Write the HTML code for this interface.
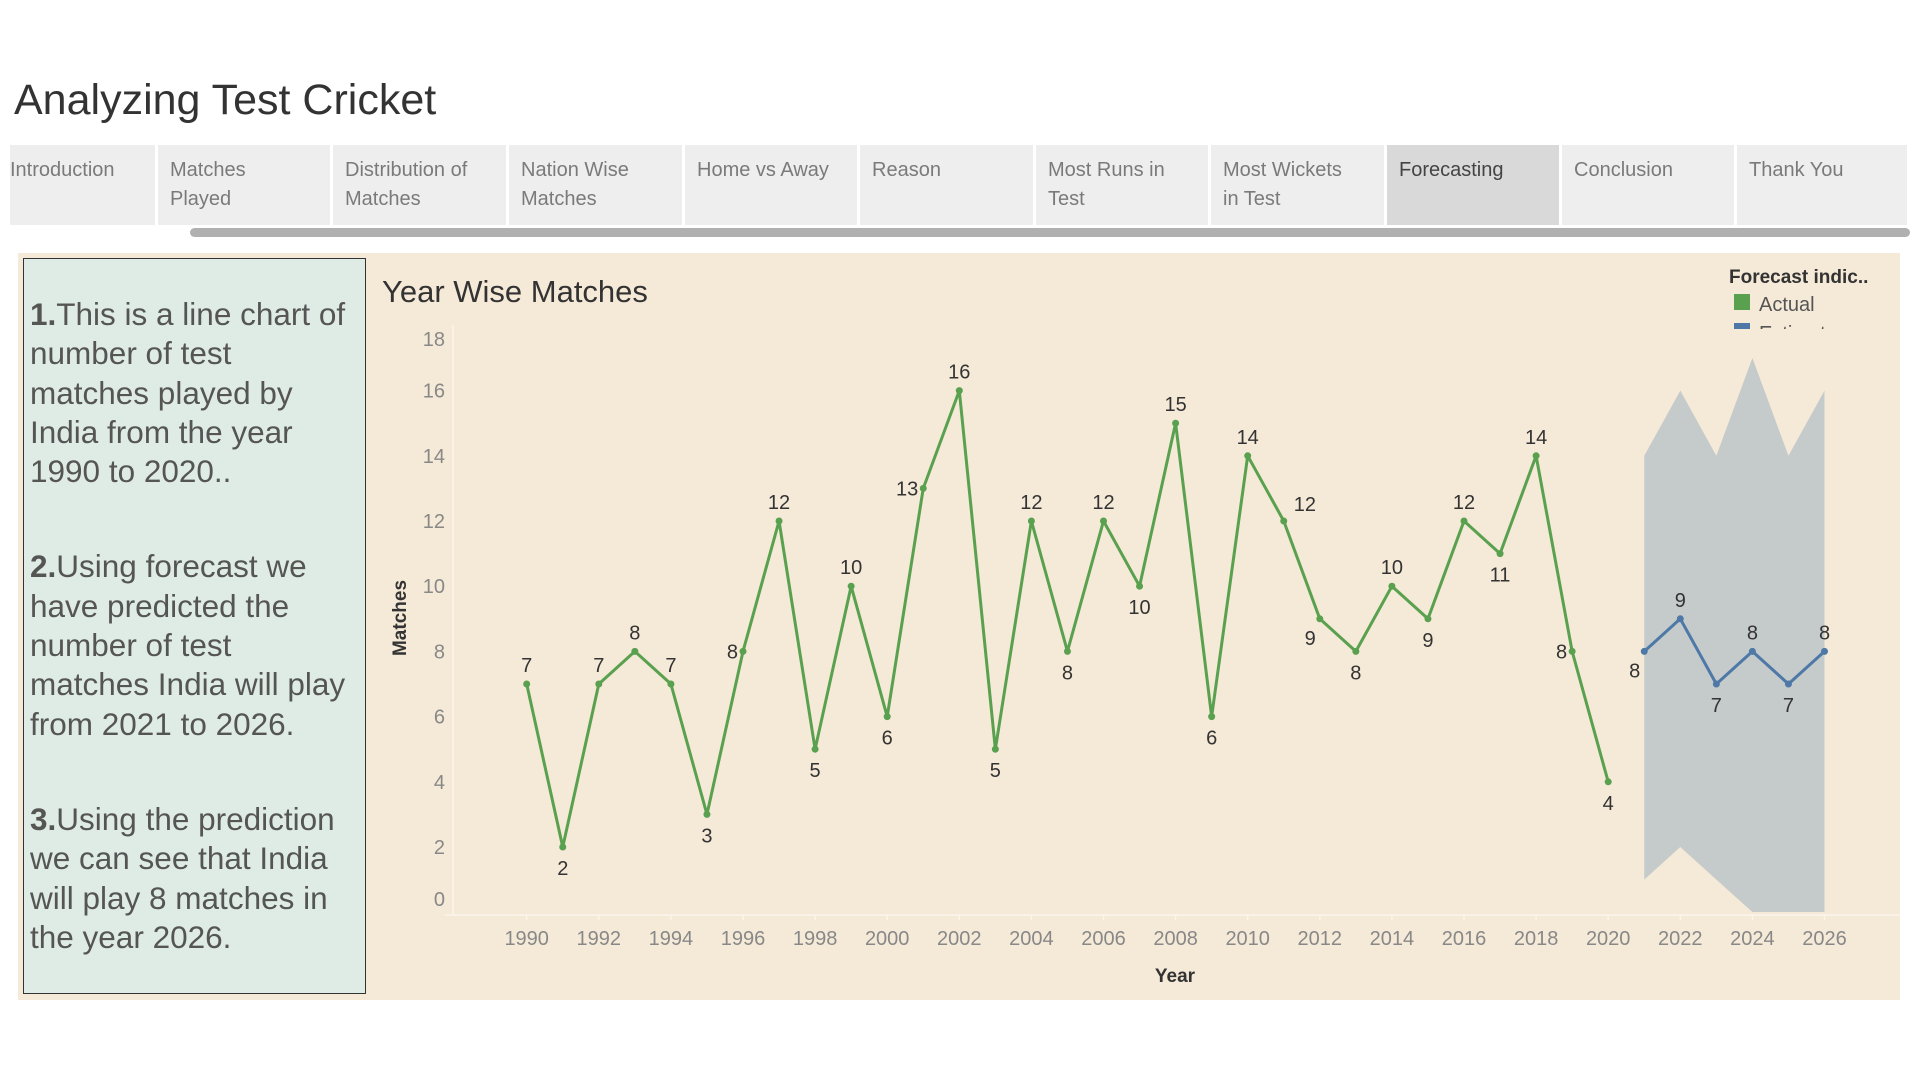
<!DOCTYPE html>
<html><head><meta charset="utf-8"><style>
body{margin:0;width:1920px;height:1080px;background:#fff;font-family:"Liberation Sans",sans-serif;overflow:hidden;position:relative}
.tab{position:absolute;top:145px;height:80px;background:#eeeeee;color:#7a7a7a;font-size:20px;line-height:29px;padding:11px 0 0 0;box-sizing:border-box}
.tab span{display:block;padding-left:12px}
.desc p{margin:0 0 56px;white-space:nowrap}
</style></head><body>
<div style="position:absolute;left:14px;top:76px;font-size:43px;color:#333">Analyzing Test Cricket</div>
<div id="tabs"></div>
<div style="position:absolute;left:190px;top:228px;width:1720px;height:9px;border-radius:5px;background:#b0b0b0"></div>
<div style="position:absolute;left:18px;top:253px;width:1882px;height:747px;background:#f5e9d7"></div>
<div class="desc" style="position:absolute;left:23px;top:258px;width:343px;height:736px;box-sizing:border-box;background:#dfece6;border:1.5px solid #333;padding:36px 0 0 6px;color:#555;font-size:31.5px;letter-spacing:0px;line-height:39.3px;overflow:hidden">
<p><b>1.</b>This is a line chart of<br>number of test<br>matches played by<br>India from the year<br>1990 to 2020..</p>
<p><b>2.</b>Using forecast we<br>have predicted the<br>number of test<br>matches India will play<br>from 2021 to 2026.</p>
<p><b>3.</b>Using the prediction<br>we can see that India<br>will play 8 matches in<br>the year 2026.</p>
</div>
<svg id="chart" width="1920" height="1080" style="position:absolute;left:0;top:0" xmlns="http://www.w3.org/2000/svg"></svg>
<script>
const tabNames=["Introduction","Matches<br>Played","Distribution of<br>Matches","Nation Wise<br>Matches","Home vs Away","Reason","Most Runs in<br>Test","Most Wickets<br>in Test","Forecasting","Conclusion","Thank You"];
const tabEdges=[10,158,333,509,685,860,1036,1211,1387,1562,1737,1910];
const tabsEl=document.getElementById('tabs');
tabNames.forEach((t,i)=>{
 const d=document.createElement('div');
 d.className='tab';
 
 
 d.style.left=tabEdges[i]+'px';d.style.width=(tabEdges[i+1]-tabEdges[i]-3)+'px';
 if(t==='Forecasting'){d.style.background='#d9d9d9';d.style.color='#444';}
 d.innerHTML='<span'+(i===0?' style="padding-left:0"':'')+'>'+t+'</span>';
 tabsEl.appendChild(d);
});

const actualYears=[1990,1991,1992,1993,1994,1995,1996,1997,1998,1999,2000,2001,2002,2003,2004,2005,2006,2007,2008,2009,2010,2011,2012,2013,2014,2015,2016,2017,2018,2019,2020];
const actualValues=[7,2,7,8,7,3,8,12,5,10,6,13,16,5,12,8,12,10,15,6,14,12,9,8,10,9,12,11,14,8,4];
const actualLabelPos=['a','b','a','a','a','b','l','a','b','a','b','l','a','b','a','b','a','b','a','b','a','r','bl','b','a','b','a','b','a','l','b'];
const forecastYears=[2021,2022,2023,2024,2025,2026];
const forecastValues=[8,9,7,8,7,8];
const forecastLabelPos=['bl','a','b','a','b','a'];
const bandUpper=[14,16,14,17,14,16];
const bandLower=[1,2,1,0,0,0];
const yTicks=[0,2,4,6,8,10,12,14,16,18];
const xTicks=[1990,1992,1994,1996,1998,2000,2002,2004,2006,2008,2010,2012,2014,2016,2018,2020,2022,2024,2026];

const X=y=>526.7+(y-1990)*36.05;
const Y=v=>651.4-(v-8)*32.6;
const svg=document.getElementById('chart');
const NS='http://www.w3.org/2000/svg';
function mk(tag,attrs,parent){const e=document.createElementNS(NS,tag);for(const k in attrs)e.setAttribute(k,attrs[k]);(parent||svg).appendChild(e);return e;}
function txt(s,x,y,attrs,parent){const e=mk('text',Object.assign({x:x,y:y},attrs),parent);e.textContent=s;return e;}

let t=txt('Year Wise Matches',382,302,{'font-size':31,fill:'#333'});



let ax=mk('line',{x1:453,y1:325,x2:453,y2:915,stroke:'#fbf5ec','stroke-width':1.5});


let bx=mk('line',{x1:445,y1:915,x2:1900,y2:915,stroke:'#fbf5ec','stroke-width':1.5});



yTicks.forEach(v=>{
 const yy=Math.min(899,Math.max(339,Y(v)));
 const e=txt(String(v),445,yy+7,{'font-size':20,fill:'#888','text-anchor':'end'});
 
 
});
xTicks.forEach(yr=>{
 const tk=mk('line',{x1:X(yr),y1:915,x2:X(yr),y2:920,stroke:'#fbf5ec','stroke-width':1.5});
 
 
 const e=txt(String(yr),X(yr),945,{'font-size':20,fill:'#888','text-anchor':'middle'});
 
 
});
let yt=txt('Matches',0,0,{'font-size':19,'font-weight':'bold',fill:'#333','text-anchor':'middle',transform:'translate(406,618) rotate(-90)'});


let xt=txt('Year',1175,982,{'font-size':19,'font-weight':'bold',fill:'#333','text-anchor':'middle'});



let pts=forecastYears.map((yr,i)=>X(yr)+','+Y(bandUpper[i]));
for(let i=forecastYears.length-1;i>=0;i--)pts.push(X(forecastYears[i])+','+Math.min(912,Y(bandLower[i])));
let band=mk('polygon',{points:pts.join(' '),fill:'#c5cacb'});



function series(years,vals,pos,color,name){
 const p=mk('polyline',{points:years.map((yr,i)=>X(yr)+','+Y(vals[i])).join(' '),fill:'none',stroke:color,'stroke-width':3,'stroke-linejoin':'round'});
 
 
 years.forEach((yr,i)=>{
  const c=mk('circle',{cx:X(yr),cy:Y(vals[i]),r:3.5,fill:color});
  
  
  let lx=X(yr),ly=Y(vals[i]),anchor='middle';
  const ps=pos[i];
  if(ps==='a')ly-=12;
  else if(ps==='b')ly+=28;
  else if(ps==='l'){lx-=5;ly+=7;anchor='end';}
  else if(ps==='r'){lx+=10;ly-=10;anchor='start';}
  else if(ps==='bl'){lx-=4;ly+=26;anchor='end';}
  const l=txt(String(vals[i]),lx,ly,{'font-size':20,fill:'#333','text-anchor':anchor});
  
  
 });
}
series(actualYears,actualValues,actualLabelPos,'#59a14f','actual');
series(forecastYears,forecastValues,forecastLabelPos,'#4e79a7','forecast');

let lg=txt('Forecast indic..',1729,283,{'font-size':19,'font-weight':'bold',fill:'#333'});


let ls=mk('rect',{x:1734,y:294,width:16,height:16,fill:'#59a14f'});


let la=txt('Actual',1759,311,{'font-size':20,fill:'#555'});


let cp=mk('clipPath',{id:'lgclip'});
mk('rect',{x:1720,y:250,width:180,height:79},cp);
let g=mk('g',{'clip-path':'url(#lgclip)'});


mk('rect',{x:1734,y:323,width:16,height:16,fill:'#4e79a7'},g);
txt('Estimate',1759,340,{'font-size':20,fill:'#555'},g);
</script>
</body></html>
